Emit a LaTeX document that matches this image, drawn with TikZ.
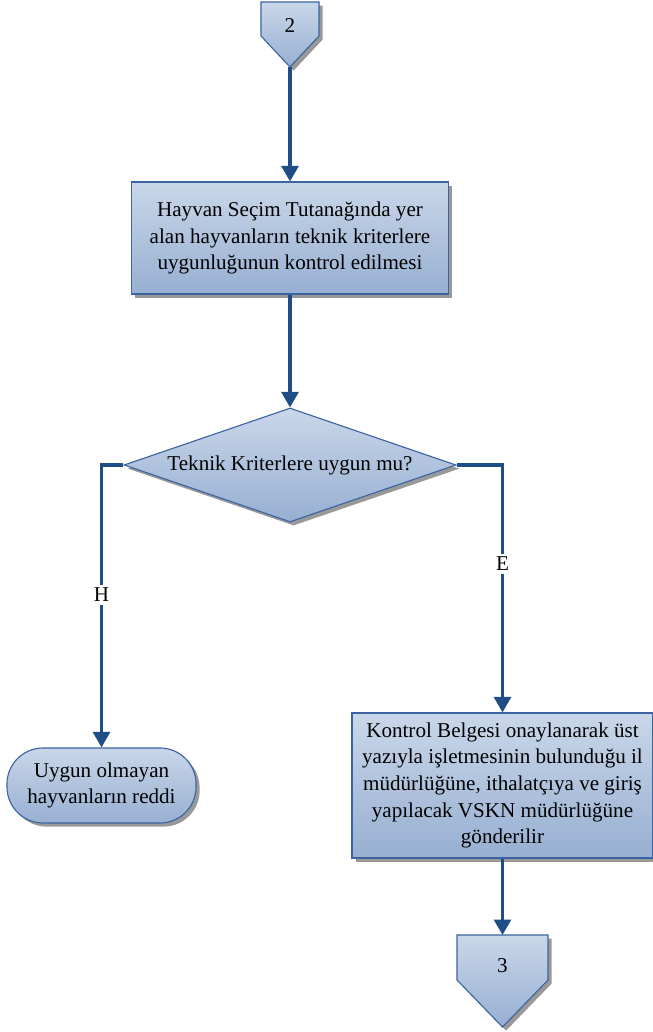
\documentclass[tikz,border=0pt]{standalone}
\usepackage{fontspec}
\setmainfont{Liberation Serif}
\usepackage{tikz}
\usetikzlibrary{positioning,shapes.geometric,arrows.meta,shadows}
\definecolor{kenar}{HTML}{3B64A0}
\definecolor{okmavi}{HTML}{1F4E87}
\definecolor{ust}{HTML}{C9D7E9}
\definecolor{alt}{HTML}{97AFD2}
\tikzset{
  sekil/.style={draw=kenar, line width=0.8pt, top color=ust, bottom color=alt,
    drop shadow={shadow xshift=0.09cm, shadow yshift=-0.09cm, fill=black!40, opacity=1}},
  yazi/.style={font=\fontsize{15}{19}\selectfont, align=center, inner sep=0pt},
  kutu/.style={sekil, yazi},
  akis/.style={draw=okmavi, line width=2.2pt, -{Triangle[width=12pt,length=11pt]}},
  etiket/.style={fill=white, font=\fontsize{15}{19}\selectfont, inner sep=2pt}
}

\begin{document}
\begin{tikzpicture}[x=0.025cm,y=-0.025cm]
      \useasboundingbox (0,0) rectangle (652,1032);

      % Disegno dei connettori
      \draw[sekil] (261,2) -- (319,2) -- (319,36) -- (290,67) -- (261,36) -- cycle;
      \node[yazi] (bag2) at (290,26) {2};
      \coordinate (bag2uc) at (290,67);

      \draw[sekil] (457,935) -- (548,935) -- (548,980) -- (502.5,1027) -- (457,980) -- cycle;
      \node[yazi] (bag3) at (502.5,966) {3};
      \coordinate (bag3ust) at (502.5,935);

      % Disegno dei nodi
      \node[kutu, minimum width=7.925cm, minimum height=2.8cm] (tutanak) at (290,238)
        {Hayvan Seçim Tutanağında yer\\alan hayvanların teknik kriterlere\\uygunluğunun kontrol edilmesi};
      \node[kutu, diamond, aspect=2.9, minimum width=8.3cm, minimum height=2.85cm] (kriter) at (290,465)
        {Teknik Kriterlere uygun mu?};
      \node[kutu, rounded corners=0.9cm, minimum width=4.725cm, minimum height=1.875cm] (red) at (101.5,785.5)
        {Uygun olmayan\\hayvanların reddi};
      \node[kutu, minimum width=7.525cm, minimum height=3.625cm] (belge) at (502.5,785.5)
        {Kontrol Belgesi onaylanarak üst\\yazıyla işletmesinin bulunduğu il\\müdürlüğüne, ithalatçıya ve giriş\\yapılacak VSKN müdürlüğüne\\gönderilir};

      % Disegno degli archi
      \draw[akis] (bag2uc) -- (tutanak);
      \draw[akis] (tutanak) -- (kriter);
      \draw[akis] (kriter.west) -| node[etiket, pos=0.73] {H} (red.north);
      \draw[akis] (kriter.east) -| node[etiket, pos=0.7] {E} (belge.north);
      \draw[akis] (belge) -- (bag3ust);
\end{tikzpicture}
\end{document}
